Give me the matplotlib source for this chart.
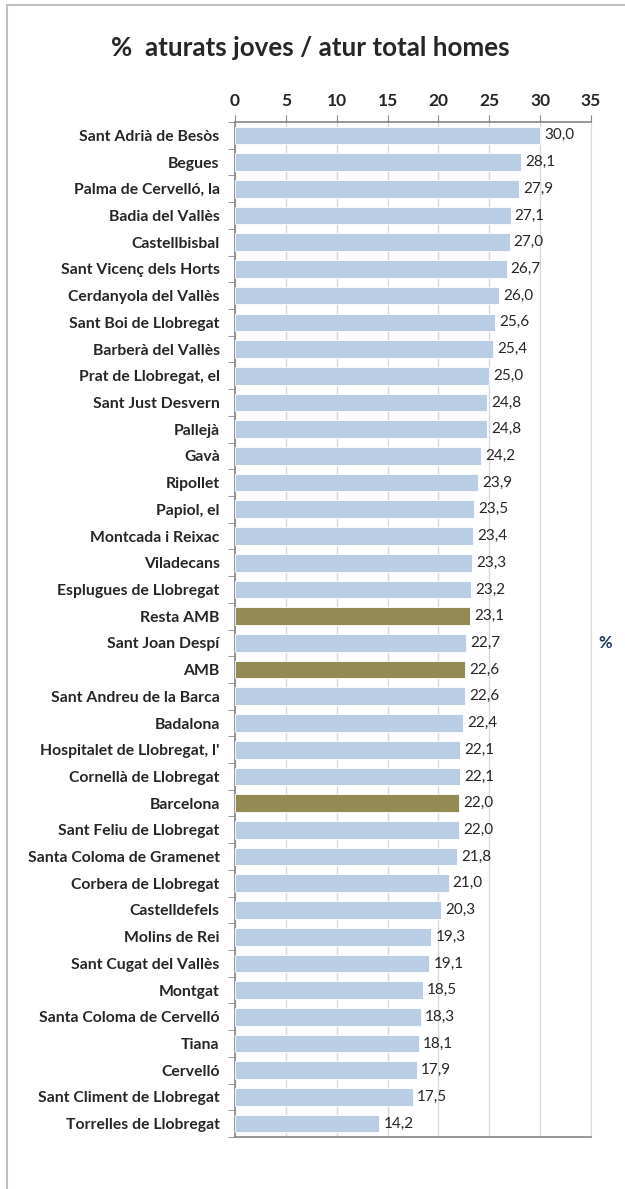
import matplotlib
matplotlib.use('Agg')
import matplotlib.pyplot as plt
from matplotlib.patches import Rectangle

plt.rcParams['font.family'] = ['Lato', 'DejaVu Sans']

# data
municipis = ['Sant Adrià de Besòs', 'Begues', 'Palma de Cervelló, la', 'Badia del Vallès',
             'Castellbisbal', 'Sant Vicenç dels Horts', 'Cerdanyola del Vallès',
             'Sant Boi de Llobregat', 'Barberà del Vallès', 'Prat de Llobregat, el',
             'Sant Just Desvern', 'Pallejà', 'Gavà', 'Ripollet', 'Papiol, el',
             'Montcada i Reixac', 'Viladecans', 'Esplugues de Llobregat', 'Resta AMB',
             'Sant Joan Despí', 'AMB', 'Sant Andreu de la Barca', 'Badalona',
             "Hospitalet de Llobregat, l'", 'Cornellà de Llobregat', 'Barcelona',
             'Sant Feliu de Llobregat', 'Santa Coloma de Gramenet', 'Corbera de Llobregat',
             'Castelldefels', 'Molins de Rei', 'Sant Cugat del Vallès', 'Montgat',
             'Santa Coloma de Cervelló', 'Tiana', 'Cervelló', 'Sant Climent de Llobregat',
             'Torrelles de Llobregat']
valors = [30.0, 28.1, 27.9, 27.1, 27.0, 26.7, 26.0, 25.6, 25.4, 25.0, 24.8, 24.8, 24.2,
          23.9, 23.5, 23.4, 23.3, 23.2, 23.1, 22.7, 22.6, 22.6, 22.4, 22.1, 22.1, 22.0,
          22.0, 21.8, 21.0, 20.3, 19.3, 19.1, 18.5, 18.3, 18.1, 17.9, 17.5, 14.2]
destacats = ['Resta AMB', 'AMB', 'Barcelona']
xticks = [0, 5, 10, 15, 20, 25, 30, 35]

colors = ['#948A54' if m in destacats else '#B9CDE5' for m in municipis]

fig = plt.figure(figsize=(6.25, 11.89), dpi=100)
ax = fig.add_axes([0.376, 0.0437, 0.5696, 0.8537])

y = list(range(len(municipis)))
ax.barh(y, valors, height=0.66, color=colors, edgecolor='white', linewidth=0.6, zorder=3)
for yi, v in zip(y, valors):
    ax.text(v + 0.4, yi, f'{v:.1f}'.replace('.', ','), va='center', ha='left',
            fontsize=11, color='#262626')

ax.set_ylim(len(municipis) - 0.5, -0.5)
ax.set_xlim(0, 35)
ax.set_yticks(y)
ax.set_yticklabels(municipis, fontsize=11.3, fontweight='bold', color='#262626')
ax.set_yticks([i - 0.5 for i in range(len(municipis) + 1)], minor=True)
ax.tick_params(axis='y', which='major', length=0, pad=11)
ax.tick_params(axis='y', which='minor', length=5, color='#868686', direction='out')

ax.set_xticks(xticks)
ax.xaxis.tick_top()
ax.tick_params(axis='x', length=5, color='#868686', labelsize=12.5, pad=4, labelcolor='#262626')
for lbl in ax.get_xticklabels():
    lbl.set_fontweight('bold')
ax.grid(axis='x', color='#D9D9D9', linewidth=1, zorder=0)

for side in ['top', 'left', 'bottom']:
    ax.spines[side].set_color('#868686')
    ax.spines[side].set_linewidth(1.2)
ax.spines['right'].set_color('#D9D9D9')

fig.text(0.497, 0.960, '%  aturats joves / atur total homes', ha='center', va='center',
         fontsize=18.7, fontweight='bold', color='#262626')
fig.text(0.968, 0.459, '%', ha='center', va='center', fontsize=12, fontweight='bold',
         color='#1F3864')

fig.patches.append(Rectangle((7 / 625, -0.1), 1.2, 1 - 5 / 1189 + 0.1,
                             transform=fig.transFigure, fill=False,
                             edgecolor='#BFBFBF', linewidth=1.5))

fig.savefig('out.png', dpi=100)
